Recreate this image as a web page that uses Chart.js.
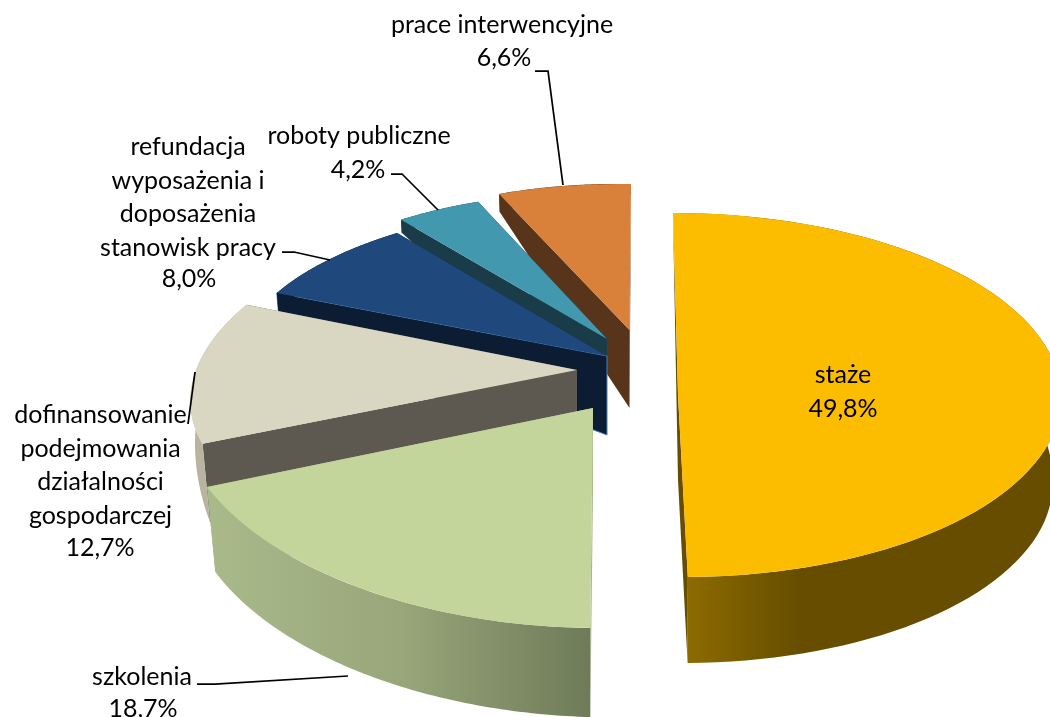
<!DOCTYPE html>
<html>
<head>
<meta charset="utf-8">
<title>Pie</title>
<script src="https://cdn.jsdelivr.net/npm/chart.js@4"></script>
<style>
    html, body { margin: 0; padding: 0; background: #fff; }
    canvas { display: block; }
</style>
</head>
<body>
<canvas id="pie" width="1050" height="717"></canvas>
<script>
// ---------------- DATA ----------------
const categories = [
    "staże",
    "szkolenia",
    "dofinansowanie podejmowania działalności gospodarczej",
    "refundacja wyposażenia i doposażenia stanowisk pracy",
    "roboty publiczne",
    "prace interwencyjne"
];
const values = [49.8, 18.7, 12.7, 8.0, 4.2, 6.6];
const labelLines = [
    ["staże"],
    ["szkolenia"],
    ["dofinansowanie", "podejmowania", "działalności", "gospodarczej"],
    ["refundacja", "wyposażenia i", "doposażenia", "stanowisk pracy"],
    ["roboty publiczne"],
    ["prace interwencyjne"]
];
const topColors = ["#fcbd00", "#c3d59b", "#d9d7c1", "#1f497d", "#4198af", "#d9803b"];

// ---------------- 3D LOOK ----------------
// every slice gets its own flattening: a = apex, u/v = where the unit x/y axes of the pie land
const slices = [
    { a: [678, 395],   u: [383, 0],  v: [5, 182],   d: [3, 86, 85],  ramp: 1.7, wall: "#664d00", cut: "#664d00",
      grad: [687, 800, ["#8c6b00", "#664d00"]] },
    { a: [593, 408],   u: [417, 9],  v: [-8, 220],  d: [89, 85, 85], wall: "#98a67a", cut: "#a9b98a",
      grad: [215, 590, ["#a9b98a", "#98a67a", "#6e7b58"]] },
    { a: [577, 370],   u: [382, -3], v: [-60, 179], d: [78, 19, 85], wall: "#b8b4a0", cut: "#5d5950" },
    { a: [607, 356],   u: [368, 5],  v: [-27, 154], d: [19, 10, 79], wall: "#0b1c33", cut: "#0b1c33", edge: "#4a7ebb" },
    { a: [607, 339],   u: [338, 9],  v: [-8, 146],  d: [13, 10, 80], wall: "#1a3c48", cut: "#1a3c48" },
    { a: [629.5, 330], u: [327, 6],  v: [-1.5, 146], d: [18, 10, 78], wall: "#57341a", cut: "#57341a" }
];
const paintOrder = [5, 4, 3, 2, 1, 0];
const lean = 0.00025;   // lower rim pulls in a little towards the apex

// ---------------- LABELS ----------------
const labelFont = "25px Lato";
const lineGap = 33.5;
const labelSpots = [
    [843, 375], [142, 677], [100.5, 415], [188, 147], [359, 136], [502, 25]
];
const valueSpots = [
    [843, 409], [143, 709], [100, 548], [189, 279], [358, 170], [504, 58]
];
const leaders = [
    null,
    [[197, 684], [215, 684], [348, 676]],
    [[188, 424], [195, 372]],
    [[282, 252], [294, 252], [330, 260]],
    [[391, 174], [402, 174], [438, 210]],
    [[535, 71], [548, 71], [563, 185]]
];

function point(s, t, drop) {
    const X = Math.cos(t), Y = Math.sin(t);
    const x = s.a[0] + X * s.u[0] + Y * s.v[0];
    const y = s.a[1] + X * s.u[1] + Y * s.v[1];
    if (!drop) return [x, y];
    return [x - (x - s.a[0]) * lean * drop, y + drop];
}

function poly(ctx, pts, fill, edge) {
    ctx.beginPath();
    pts.forEach((p, i) => i ? ctx.lineTo(p[0], p[1]) : ctx.moveTo(p[0], p[1]));
    ctx.closePath();
    ctx.fillStyle = fill;
    ctx.fill();
    if (edge) {
        ctx.strokeStyle = edge;
        ctx.lineWidth = 1;
        ctx.stroke();
    }
}

function drawSlice(ctx, el, s) {
    const t0 = el.startAngle, t1 = el.endAngle;
    const [d0, d1, dA] = s.d;
    const apex = s.a, apexLow = [apex[0], apex[1] + dA];
    const ramp = s.ramp || 1;

    // cut faces
    poly(ctx, [apex, point(s, t1), point(s, t1, d1), apexLow], s.cut);
    poly(ctx, [apex, point(s, t0), point(s, t0, d0), apexLow], s.cut, s.edge);

    // rim
    const upper = [], lower = [];
    for (let i = 0; i <= 80; i++) {
        const f = i / 80, t = t0 + (t1 - t0) * f;
        const drop = d0 + (d1 - d0) * Math.sin(Math.min(1, f * ramp) * Math.PI / 2);
        upper.push(point(s, t));
        lower.unshift(point(s, t, drop));
    }
    let fill = s.wall;
    if (s.grad) {
        fill = ctx.createLinearGradient(s.grad[0], 0, s.grad[1], 0);
        s.grad[2].forEach((c, i) => fill.addColorStop(i / (s.grad[2].length - 1), c));
    }
    poly(ctx, upper.concat(lower), fill);

    // top face, the library draws the arc itself
    const r = el.outerRadius;
    ctx.save();
    ctx.translate(apex[0], apex[1]);
    ctx.transform(s.u[0] / r, s.u[1] / r, s.v[0] / r, s.v[1] / r, 0, 0);
    ctx.translate(-el.x, -el.y);
    el.draw(ctx);
    ctx.restore();
}

const pie3d = {
    id: "pie3d",
    beforeDatasetDraw(chart, args) {
        const ctx = chart.ctx;
        const arcs = chart.getDatasetMeta(args.index).data;
        paintOrder.forEach(i => drawSlice(ctx, arcs[i], slices[i]));
        return false;
    },
    afterDraw(chart) {
        const ctx = chart.ctx;
        ctx.save();

        ctx.strokeStyle = "#000";
        ctx.lineWidth = 1.75;
        leaders.forEach(line => {
            if (!line) return;
            ctx.beginPath();
            line.forEach((p, i) => i ? ctx.lineTo(p[0], p[1]) : ctx.moveTo(p[0], p[1]));
            ctx.stroke();
        });

        ctx.font = labelFont;
        ctx.fillStyle = "#000";
        ctx.textAlign = "center";
        ctx.textBaseline = "middle";
        labelLines.forEach((lines, i) => {
            lines.forEach((txt, k) => {
                ctx.fillText(txt, labelSpots[i][0], labelSpots[i][1] + k * lineGap);
            });
            ctx.fillText(values[i].toFixed(1).replace(".", ",") + "%", valueSpots[i][0], valueSpots[i][1]);
        });
        ctx.restore();
    }
};

// ---------------- CHART ----------------
new Chart(document.getElementById("pie"), {
    type: "pie",
    data: {
        labels: categories,
        datasets: [{
            data: values,
            backgroundColor: topColors,
            borderWidth: 0
        }]
    },
    options: {
        responsive: false,
        animation: false,
        events: [],
        plugins: {
            legend: { display: false },
            tooltip: { enabled: false }
        }
    },
    plugins: [pie3d]
});
</script>
</body>
</html>
